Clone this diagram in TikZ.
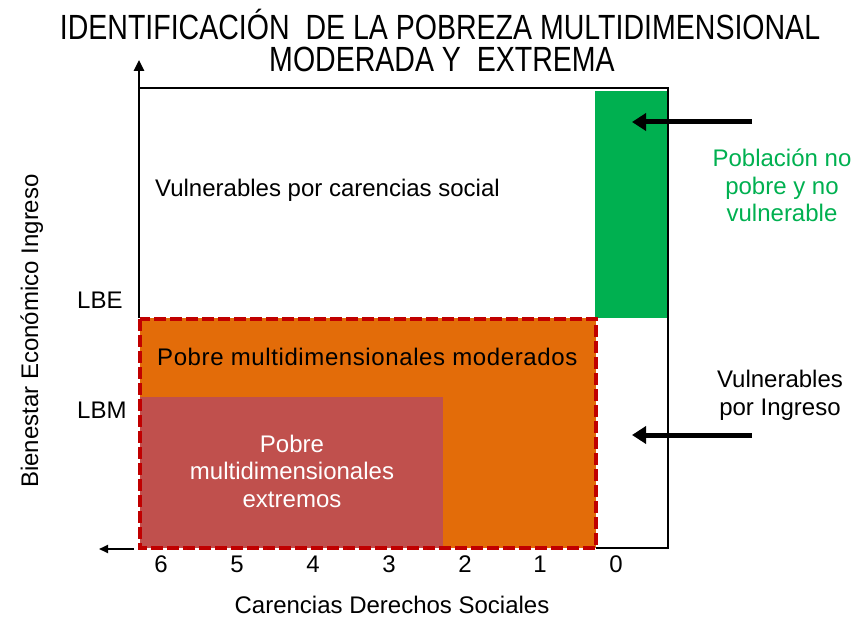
\documentclass[tikz,border=0pt]{standalone}
\usepackage{fontspec}
\setmainfont{Liberation Sans}
\newfontfamily\titlefont[FakeStretch=0.815]{Liberation Sans}
\newfontfamily\widefont[LetterSpace=2.5]{Liberation Sans}
\usetikzlibrary{arrows.meta}
\definecolor{pgreen}{HTML}{00B050}
\definecolor{porange}{HTML}{E36C09}
\definecolor{pbrown}{HTML}{C0504D}
\definecolor{pred}{HTML}{C00000}
\tikzset{
  txt/.style={font=\fontsize{24}{27.5}\selectfont, inner sep=0pt, anchor=base},
  ttl/.style={font=\titlefont\fontsize{35}{32}\selectfont, inner sep=0pt, anchor=base},
  frame/.style={line width=2.6pt, black},
  bigarrow/.style={line width=5pt, -{Triangle[length=14pt,width=17pt]}},
  axisarrow/.style={line width=2.6pt, -{Triangle[length=11pt,width=10pt]}},
  smallarrow/.style={line width=2pt, -{Triangle[length=9pt,width=8pt]}},
  reddash/.style={draw=pred, line width=3.5pt, dash pattern=on 12pt off 4pt}
}
\begin{document}
\begin{tikzpicture}[x=1pt,y=-1pt]
\useasboundingbox (0,0) rectangle (858,617);
% filled areas
\fill[pgreen] (595,91) rectangle (668,318);
\fill[porange] (140,318) rectangle (596,548);
\fill[pbrown] (140,397) rectangle (443,548);
% coordinates
\coordinate (axtop) at (139,60);
\coordinate (axlbe) at (139,318);
\coordinate (tl) at (139,88);
\coordinate (tr) at (668,88);
\coordinate (br) at (668,548);
\coordinate (bm) at (596,548);
\coordinate (la1) at (134,549);
\coordinate (la2) at (99,549);
\coordinate (ga1) at (752,122);
\coordinate (ga2) at (632,122);
\coordinate (va1) at (752,435);
\coordinate (va2) at (632,435);
\coordinate (rdtl) at (140,319);
\coordinate (rdbr) at (596,548);
% frame lines
\draw[axisarrow] (axlbe) -- (axtop);
\draw[frame] (tl) -- (tr) -- (br) -- (bm);
\draw[smallarrow] (la1) -- (la2);
% red dashed boundary
\draw[reddash] (rdtl) rectangle (rdbr);
% arrows
\draw[bigarrow] (ga1) -- (ga2);
\draw[bigarrow] (va1) -- (va2);
% title
\node[ttl] (t1) at (440,40) {IDENTIFICACIÓN\ \ DE LA POBREZA MULTIDIMENSIONAL};
\node[ttl] (t2) at (442,72) {MODERADA Y\ \ EXTREMA};
% texts
\node[txt, anchor=base west] (vcs) at (155,197) {Vulnerables por carencias social};
\node[txt, anchor=base west, font=\widefont\fontsize{24}{27.5}\selectfont] (pmm) at (157,365) {Pobre multidimensionales moderados};
\node[txt, align=center, text=white] (pme) at (292,507) {Pobre\\multidimensionales\\extremos};
\node[txt, anchor=base west] (lbe) at (77,308) {LBE};
\node[txt, anchor=base west] (lbm) at (77,418) {LBM};
\node[txt, align=center, text=pgreen] (pnp) at (782,222) {Población no\\pobre y no\\vulnerable};
\node[txt, align=center] (vpi) at (780,415) {Vulnerables\\por Ingreso};
\node[txt, rotate=90] (bei) at (38,331) {Bienestar Económico Ingreso};
\node[txt] (n6) at (161,572) {6};
\node[txt] (n5) at (237,572) {5};
\node[txt] (n4) at (313,572) {4};
\node[txt] (n3) at (389,572) {3};
\node[txt] (n2) at (465,572) {2};
\node[txt] (n1) at (540,572) {1};
\node[txt] (n0) at (616,572) {0};
\node[txt] (cds) at (392,613) {Carencias Derechos Sociales};
\end{tikzpicture}
\end{document}
